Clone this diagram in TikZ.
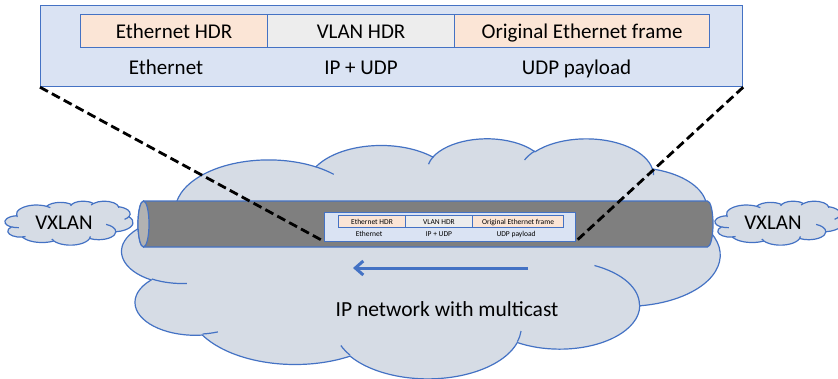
\documentclass[tikz,border=0pt]{standalone}
\usepackage{fontspec}
\setmainfont{Carlito}
\usetikzlibrary{arrows.meta}

\definecolor{cloudfill}{HTML}{D6DCE5}
\definecolor{edgeblue}{HTML}{4472C4}
\definecolor{panelblue}{HTML}{DAE3F3}
\definecolor{peach}{HTML}{FBE5D6}
\definecolor{lightgrey}{HTML}{EDEDED}
\definecolor{tubegrey}{HTML}{7F7F7F}
\definecolor{tubeface}{HTML}{B2B2B2}

\tikzset{
  outline/.style={draw=edgeblue, line width=1.2pt},
  bigtext/.style={font=\fontsize{21}{25}\selectfont, inner sep=0pt},
  lbl/.style={bigtext, anchor=base},
  panel/.style={outline, fill=panelblue, minimum width=702pt, minimum height=81pt,
    inner sep=0pt, anchor=north west},
  cell/.style={outline, minimum height=33pt, inner sep=0pt, anchor=north west,
    text height=15pt, text depth=0pt, font=\fontsize{21}{25}\selectfont},
  zoomline/.style={black, line width=2.8pt, dash pattern=on 9pt off 4.5pt},
  flow/.style={edgeblue, line width=3pt, -{Straight Barb[length=8pt, width=14pt, line width=3pt]}},
  % cloud outline in a 432 x 432 box (y grows downwards)
  pics/cloudshape/.style={code={
    \path[outline, fill=cloudfill] (39,143.7)
      arc[start angle=-187.746, end angle=-59.631, x radius=67.53, y radius=91.90]
      arc[start angle=-152.03,  end angle=-45.44,  x radius=53.33, y radius=72.67]
      arc[start angle=-153.49,  end angle=-37.32,  x radius=43.65, y radius=59.45]
      arc[start angle=-139.69,  end angle=-10.21,  x radius=48.57, y radius=65.95]
      arc[start angle=-74.77,   end angle=23.21,   x radius=53.33, y radius=72.73]
      arc[start angle=-37.52,   end angle=81.86,   x radius=67.75, y radius=92.20]
      arc[start angle=0.46,     end angle=121.98,  x radius=57.85, y radius=78.67]
      arc[start angle=16.84,    end angle=146.25,  x radius=67.52, y radius=92.15]
      arc[start angle=58.99,    end angle=150.20,  x radius=77.20, y radius=105.43]
      arc[start angle=-276.69,  end angle=-136.90, x radius=43.60, y radius=59.18]
      arc[start angle=-239.64,  end angle=-95.89,  x radius=43.45, y radius=59.45]
      -- cycle;
    \path[outline]
      (46.93,261.77)  arc[start angle=85.546,  end angle=120.36,  x radius=43.45, y radius=59.45]
      (69.28,348.99)  arc[start angle=68.23,   end angle=83.31,   x radius=43.60, y radius=59.18]
      (164.78,390.90) arc[start angle=146.25,  end angle=158.47,  x radius=67.52, y radius=92.15]
      (288.27,347.51) arc[start angle=4.738,   end angle=16.84,   x radius=67.52, y radius=92.15]
      (341.29,229.54) arc[start angle=-64.03,  end angle=0.46,    x radius=57.85, y radius=78.67]
      (417.98,153.54) arc[start angle=23.21,   end angle=49.64,   x radius=53.33, y radius=72.73]
      (383.24,54.26)  arc[start angle=-10.21,  end angle=0.82,    x radius=48.57, y radius=65.95]
      (290.78,39.52)  arc[start angle=-156.29, end angle=-139.69, x radius=48.57, y radius=65.95]
      (221.41,47.20)  arc[start angle=-167.73, end angle=-153.49, x radius=43.65, y radius=59.45]
      (140.00,51.92)  arc[start angle=-59.63,  end angle=-45.72,  x radius=67.53, y radius=91.90]
      (41.27,157.89)  arc[start angle=167.90,  end angle=181.85,  x radius=67.53, y radius=91.90];
  }},
  % encapsulated frame: header row above the layer labels
  pics/packet/.style={code={
    \node[panel] (-frame) at (0,0) {};
    \node[cell, fill=peach, minimum width=187pt] (-eth) at (40,9) {Ethernet HDR};
    \node[cell, fill=lightgrey, minimum width=187pt] (-vlan) at (227,9) {VLAN HDR};
    \node[cell, fill=peach, minimum width=255pt] (-orig) at (414,9) {Original Ethernet frame};
    \node[lbl] (-l1) at (126,69) {Ethernet};
    \node[lbl] (-l2) at (321,69) {IP + UDP};
    \node[lbl] (-l3) at (536.5,69) {UDP payload};
  }}
}

\begin{document}
\begin{tikzpicture}[x=1pt, y=-1pt]
  \useasboundingbox (0,0) rectangle (838,378);

  % IP network cloud and the two VXLAN end clouds
  \pic[xscale=598/432, yscale=240/432] at (122,138) {cloudshape};
  \pic[xscale=128/432, yscale=44/432] at (5,201) {cloudshape};
  \pic[xscale=128/432, yscale=44/432] at (715,201) {cloudshape};
  \node[lbl] (vxleft) at (64,229.5) {VXLAN};
  \node[lbl] (vxright) at (773,229.5) {VXLAN};

  % tunnel
  \path[outline, fill=tubegrey] (143.5,201) -- (707.5,201)
    arc[start angle=-90, end angle=90, x radius=5.5, y radius=23]
    -- (143.5,247)
    arc[start angle=90, end angle=270, x radius=5.5, y radius=23] -- cycle;
  \path[outline, fill=tubeface] (143.5,224) ellipse[x radius=5.5, y radius=23];

  % frame travelling in the tunnel
  \pic[scale=0.358, transform shape] (small) at (324,212) {packet};

  % direction of travel
  \coordinate (flowstart) at (528,268);
  \coordinate (flowend) at (353,268);
  \draw[flow] (flowstart) -- (flowend);
  \node[bigtext, anchor=base, font=\fontsize{21.5}{26}\selectfont] (netlabel) at (447,316) {IP network with multicast};

  % enlarged frame
  \pic (big) at (40,5) {packet};
  \draw[zoomline] (big-frame.south west) -- (small-frame.south west);
  \draw[zoomline] (big-frame.south east) -- (small-frame.south east);
\end{tikzpicture}
\end{document}
